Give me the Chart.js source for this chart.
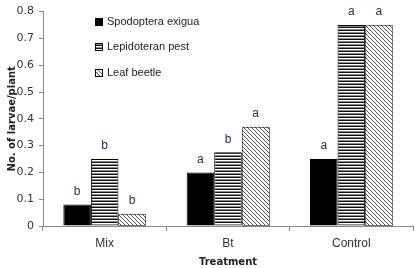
<!DOCTYPE html>
<html>
<head>
<meta charset="utf-8">
<script src="https://cdn.jsdelivr.net/npm/chart.js@4"></script>
<style>
html,body{margin:0;padding:0;background:#fff;}
#wrap{width:415px;height:268px;position:relative;}
</style>
</head>
<body>
<div id="wrap"><canvas id="chart"></canvas></div>
<script>
const categories=["Mix","Bt","Control"];
const spodoptera=[0.08,0.2,0.25];
const lepidoteran=[0.25,0.275,0.75];
const leafBeetle=[0.045,0.37,0.75];
const seriesNames=["Spodoptera exigua","Lepidoteran pest","Leaf beetle"];
const letters=[["b","a","a"],["b","b","a"],["b","a","a"]];
const yTicks=[0,0.1,0.2,0.3,0.4,0.5,0.6,0.7,0.8];

// small tile patterns for the bar fills
function stripes()
{
  const c=document.createElement("canvas");
  c.width=4;c.height=3;
  const g=c.getContext("2d");
  g.fillStyle="#fff";g.fillRect(0,0,4,3);
  g.fillStyle="#111";g.fillRect(0,0,4,1);
  g.fillStyle="#8a8a8a";g.fillRect(0,2,4,1);
  return g.createPattern(c,"repeat");
}
function hatch()
{
  const c=document.createElement("canvas");
  c.width=4;c.height=4;
  const g=c.getContext("2d");
  g.fillStyle="#fff";g.fillRect(0,0,4,4);
  g.fillStyle="#555";
  for(let i=0;i<4;i++){g.fillRect(i,i,1,1);}
  return g.createPattern(c,"repeat");
}
const fills=["#000",stripes(),hatch()];

const letterPlugin={
  id:"letters",
  afterDatasetsDraw(chart)
  {
    const ctx=chart.ctx;
    ctx.save();
    // dotted outline for the leaf beetle bars
    ctx.strokeStyle="#000";
    ctx.lineWidth=1;
    ctx.setLineDash([1,1]);
    chart.getDatasetMeta(2).data.forEach(bar=>{
      const w=bar.width;
      ctx.strokeRect(Math.round(bar.x-w/2)+0.5,Math.round(bar.y)+0.5,Math.round(w)-1,Math.round(bar.base-bar.y)-1);
    });
    ctx.setLineDash([]);
    ctx.font="12px 'Liberation Sans', Arial, sans-serif";
    ctx.fillStyle="#3b2452";
    ctx.textAlign="center";
    ctx.textBaseline="middle";
    chart.data.datasets.forEach((ds,d)=>{
      chart.getDatasetMeta(d).data.forEach((bar,i)=>{
        ctx.fillText(letters[d][i],bar.x,bar.y-13);
      });
    });
    ctx.restore();
  }
};

const legendPlugin={
  id:"ownLegend",
  afterDraw(chart)
  {
    const ctx=chart.ctx;
    ctx.save();
    ctx.font="11px 'Liberation Sans', Arial, sans-serif";
    ctx.textBaseline="middle";
    const rows=[22,47,73];
    seriesNames.forEach((name,i)=>{
      ctx.fillStyle=fills[i];
      ctx.fillRect(95,rows[i]-4,8,8);
      ctx.strokeStyle="#000";
      ctx.lineWidth=1;
      ctx.strokeRect(95.5,rows[i]-3.5,7,7);
      ctx.fillStyle="#222";
      ctx.fillText(name,107,rows[i]);
    });
    ctx.restore();
  }
};

new Chart(document.getElementById("chart"),{
  type:"bar",
  data:{
    labels:categories,
    datasets:[
      {label:seriesNames[0],data:spodoptera,backgroundColor:fills[0],borderColor:"#000",borderWidth:1},
      {label:seriesNames[1],data:lepidoteran,backgroundColor:fills[1],borderColor:"#000",borderWidth:1},
      {label:seriesNames[2],data:leafBeetle,backgroundColor:fills[2],borderWidth:0}
    ]
  },
  options:{
    responsive:true,
    maintainAspectRatio:false,
    animation:false,
    layout:{padding:{top:10,right:2,left:0,bottom:0}},
    datasets:{bar:{categoryPercentage:0.67,barPercentage:1}},
    plugins:{legend:{display:false},tooltip:{enabled:false}},
    scales:{
      x:{
        grid:{display:true,offset:true,drawOnChartArea:false,tickLength:5,color:"#888"},
        border:{color:"#888"},
        ticks:{color:"#333",font:{family:"'Liberation Sans', Arial, sans-serif",size:12},padding:5},
        title:{display:true,text:"Treatment",color:"#222",font:{family:"'DejaVu Sans', sans-serif",size:10,weight:"bold"},padding:{top:6,bottom:0}},
        afterFit:s=>{s.height=42;}
      },
      y:{
        min:0,max:0.8,
        afterBuildTicks:s=>{s.ticks=yTicks.map(v=>({value:v}));},
        grid:{display:true,drawOnChartArea:false,tickLength:4,color:"#888"},
        border:{color:"#888"},
        ticks:{color:"#333",font:{family:"'DejaVu Sans', sans-serif",size:11},padding:5,callback:v=>String(v)},
        title:{display:true,text:"No. of larvae/plant",color:"#222",font:{family:"'DejaVu Sans', sans-serif",size:10,weight:"bold"},padding:{top:6,bottom:0}},
        afterFit:s=>{s.width=43;}
      }
    }
  },
  plugins:[letterPlugin,legendPlugin]
});
</script>
</body>
</html>
